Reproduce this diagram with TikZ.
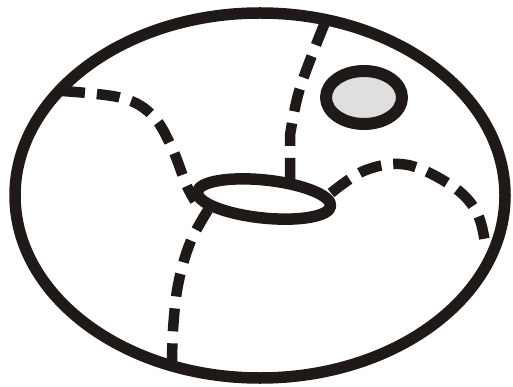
\documentclass[tikz,border=0pt]{standalone}
\usetikzlibrary{calc}
\definecolor{ink}{HTML}{1F1A17}
\definecolor{patch}{HTML}{DFDFDF}
\tikzset{
  surface/.style={draw=ink, line width=11.5pt, line join=round},
  seam/.style={draw=ink, line width=10.5pt, dash pattern=on 23pt off 12pt},
}
\begin{document}
\begin{tikzpicture}[x=1pt, y=-1pt]
  \useasboundingbox (0,0) rectangle (513,387);
  % outer silhouette of the torus
  \draw[surface] (260,195.5) ellipse [x radius=245, y radius=182.5];
  % central hole
  \draw[surface, rotate around={-6:(264,199)}] (264,199) ellipse [x radius=67, y radius=19];
  % small disc on the upper right
  \draw[surface, line width=12pt, fill=patch] (364,97.5) ellipse [x radius=38, y radius=26.5];
  % dashed cutting curves
  \coordinate (lt) at (62,91);
  \coordinate (hl) at (195,201);
  \coordinate (hb) at (208,210);
  \coordinate (bt) at (172,370);
  \coordinate (tp) at (329,13);
  \coordinate (ht) at (290,181);
  \coordinate (hr) at (331,193);
  \coordinate (rt) at (486,250);
  \draw[seam] plot[smooth, tension=0.6] coordinates {(lt) (122,98) (153,116) (172,148) (186,184) (hl)};
  \draw[seam] plot[smooth, tension=0.6] coordinates {(hb) (190,243) (178,285) (173,330) (bt)};
  \draw[seam] (ht) -- plot[smooth, tension=0.6] coordinates {(290,135) (298,95) (312,55) (tp)};
  \draw[seam] plot[smooth, tension=0.6] coordinates {(hr) (366,170) (408,165) (455,188) (478,215) (rt)};
\end{tikzpicture}
\end{document}
